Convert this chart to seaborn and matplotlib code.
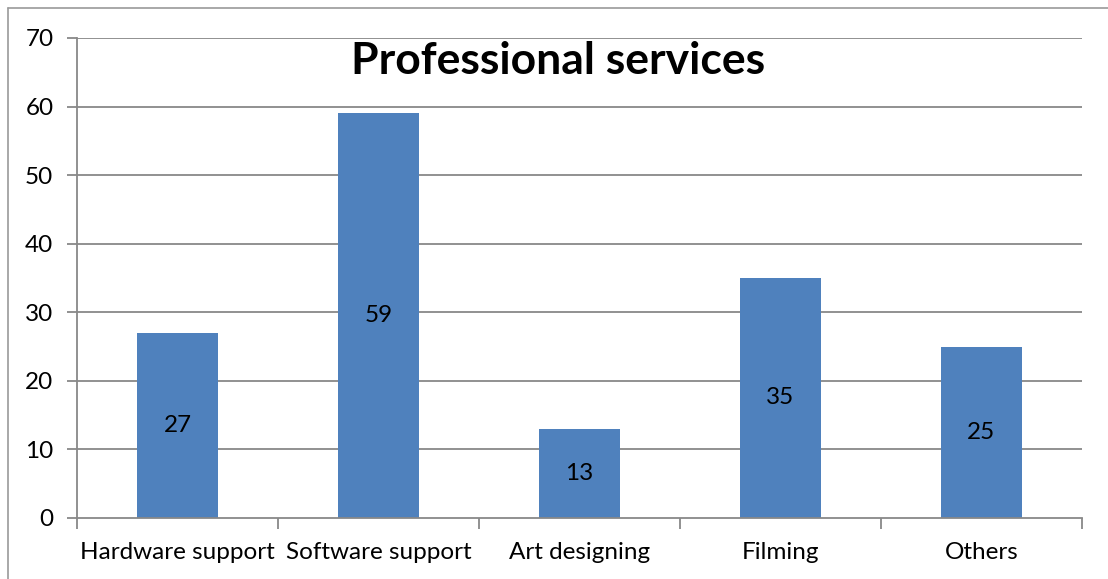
import matplotlib
matplotlib.use("Agg")
import matplotlib.pyplot as plt
from matplotlib.lines import Line2D
import seaborn as sns
import pandas as pd

categories = ["Hardware support", "Software support", "Art designing", "Filming", "Others"]
counts = [27, 59, 13, 35, 25]
y_ticks = [0, 10, 20, 30, 40, 50, 60, 70]

sns.set_theme(style="white")
plt.rcParams["font.family"] = ["Lato", "DejaVu Sans"]

df = pd.DataFrame({"service": categories, "count": counts})

W, H = 1108, 579
fig = plt.figure(figsize=(W / 100, H / 100), dpi=100)
left, right, top, bottom = 77, 1082, 38, 518
ax = fig.add_axes([left / W, 1 - bottom / H, (right - left) / W, (bottom - top) / H])

grid_color = "#888888"
bar_color = "#4F81BD"
label_size = 17.5

sns.barplot(data=df, x="service", y="count", color=bar_color, width=0.4,
            saturation=1, linewidth=0, ax=ax, zorder=3)

ax.set_ylim(0, 70)
ax.set_xlim(-0.5, len(categories) - 0.5)
ax.set_yticks(y_ticks)
ax.set_yticklabels([str(v) for v in y_ticks], fontsize=label_size, color="black")
ax.set_xlabel("")
ax.set_ylabel("")

for v in y_ticks[1:]:
    ax.axhline(v, color=grid_color, lw=1.3, zorder=1)

# x-axis ticks sit on the category boundaries
ax.set_xticks([i - 0.5 for i in range(len(categories) + 1)], minor=False)
ax.set_xticklabels([])
ax.set_xticks(range(len(categories)), minor=True)
ax.set_xticklabels(categories, minor=True, fontsize=label_size, color="black")
ax.tick_params(axis="x", which="major", length=8, width=1.3, color=grid_color,
               direction="out", bottom=True)
ax.tick_params(axis="x", which="minor", length=0, pad=17)
ax.tick_params(axis="y", length=7, width=1.3, color=grid_color, direction="out",
               left=True, pad=10)

for s in ["top", "right"]:
    ax.spines[s].set_visible(False)
for s in ["left", "bottom"]:
    ax.spines[s].set_color(grid_color)
    ax.spines[s].set_linewidth(1.3)
    ax.spines[s].set_zorder(4)

for i, v in enumerate(counts):
    ax.text(i, v / 2, str(v), ha="center", va="center", fontsize=label_size,
            color="black", zorder=5)

ax.text(0.479, 0.953, "Professional services", transform=ax.transAxes,
        ha="center", va="center", fontsize=32, fontweight="bold", color="black",
        zorder=5)

# chart frame
frame_color = "#9a9a9a"
fig.add_artist(Line2D([8 / W, 1], [1 - 8 / H, 1 - 8 / H], color=frame_color, lw=1.2))
fig.add_artist(Line2D([8 / W, 8 / W], [0, 1 - 8 / H], color=frame_color, lw=1.2))

fig.savefig("out.png", dpi=100, facecolor="white")
